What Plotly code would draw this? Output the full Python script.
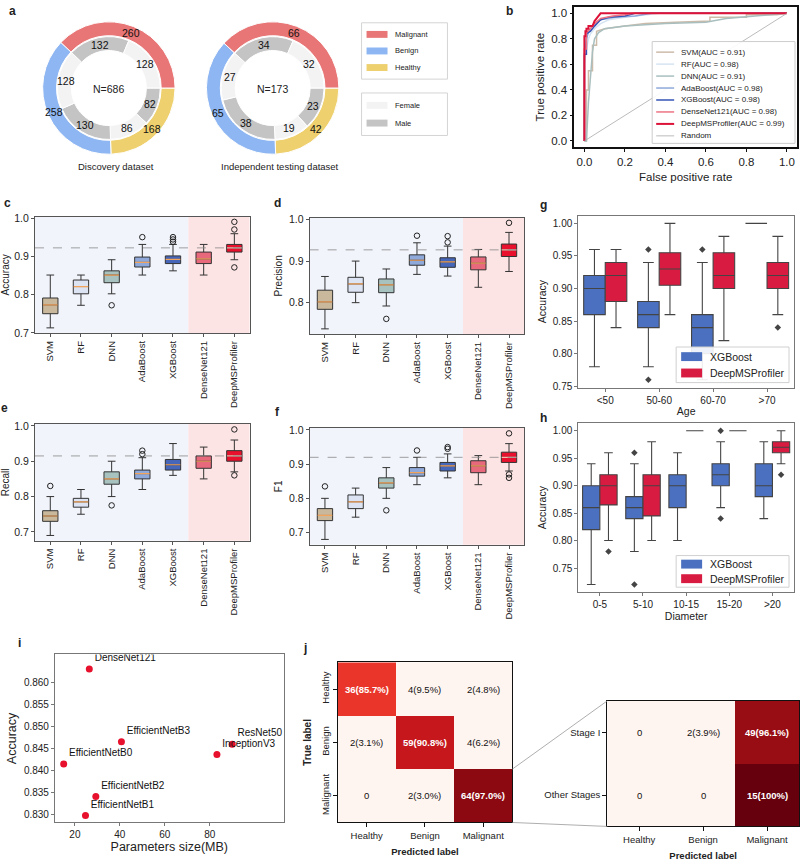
import math
import plotly.graph_objects as go

W, H = 800, 868
FONT = "Liberation Sans"

# ---------------- a: sample composition ----------------
groups = ["Malignant", "Benign", "Healthy"]
group_colors = ["#E97676", "#8DB6F2", "#EED06F"]
discovery_n = [260, 258, 168]
testing_n = [66, 65, 42]
sexes = ["Female", "Male"]
sex_colors = ["#F3F3F3", "#C4C4C4"]
discovery_sex_n = [128, 132, 128, 130, 86, 82]
testing_sex_n = [32, 34, 27, 38, 19, 23]

# ---------------- b: ROC ----------------
roc_models = ["SVM", "RF", "DNN", "AdaBoost", "XGBoost", "DenseNet121", "DeepMSProfiler"]
roc_auc = [0.91, 0.98, 0.91, 0.98, 0.98, 0.98, 0.99]
roc_colors = ["#CDBBA9", "#D6E4F2", "#A9BFBF", "#8FA9DB", "#3454B4", "#EE7484", "#DC1238"]
svm_fpr = [0, 0.01, 0.01, 0.02, 0.02, 0.04, 0.04, 0.06, 0.06, 0.1, 0.2, 0.3, 0.45, 0.62, 0.62, 0.8, 0.8, 0.95, 1.0]
svm_tpr = [0, 0.0, 0.4, 0.4, 0.55, 0.55, 0.75, 0.75, 0.86, 0.88, 0.9, 0.92, 0.93, 0.94, 0.97, 0.97, 0.99, 0.99, 1.0]
rf_fpr = [0, 0.0, 0.01, 0.02, 0.03, 0.05, 0.08, 0.12, 0.2, 0.3, 0.37, 1.0]
rf_tpr = [0, 0.6, 0.72, 0.8, 0.84, 0.88, 0.92, 0.95, 0.97, 0.99, 1.0, 1.0]
dnn_fpr = [0, 0.01, 0.02, 0.04, 0.05, 0.07, 0.1, 0.2, 0.4, 0.6, 0.7, 0.85, 1.0]
dnn_tpr = [0, 0.0, 0.3, 0.7, 0.8, 0.85, 0.88, 0.9, 0.92, 0.93, 0.96, 0.98, 1.0]
ada_fpr = [0, 0.0, 0.01, 0.02, 0.03, 0.05, 0.08, 0.15, 0.25, 0.33, 1.0]
ada_tpr = [0, 0.65, 0.8, 0.85, 0.88, 0.92, 0.95, 0.97, 0.98, 1.0, 1.0]
xgb_fpr = [0, 0.0, 0.01, 0.01, 0.03, 0.05, 0.08, 0.12, 0.2, 0.25, 1.0]
xgb_tpr = [0, 0.68, 0.68, 0.84, 0.86, 0.9, 0.95, 0.97, 0.98, 1.0, 1.0]
dense_fpr = [0, 0.0, 0.01, 0.01, 0.03, 0.05, 0.08, 0.14, 0.2, 0.24, 1.0]
dense_tpr = [0, 0.72, 0.72, 0.85, 0.88, 0.92, 0.96, 0.98, 0.99, 1.0, 1.0]
deep_fpr = [0, 0.0, 0.005, 0.005, 0.01, 0.01, 0.02, 0.02, 0.04, 0.05, 0.07, 0.08, 1.0]
deep_tpr = [0, 0.82, 0.82, 0.86, 0.86, 0.88, 0.88, 0.9, 0.9, 0.94, 0.98, 1.0, 1.0]
roc_fprs = [svm_fpr, rf_fpr, dnn_fpr, ada_fpr, xgb_fpr, dense_fpr, deep_fpr]
roc_tprs = [svm_tpr, rf_tpr, dnn_tpr, ada_tpr, xgb_tpr, dense_tpr, deep_tpr]

# ---------------- c-f: metric boxplots ----------------
models = ["SVM", "RF", "DNN", "AdaBoost", "XGBoost", "DenseNet121", "DeepMSProfiler"]
n_classic = 5
box_colors = ["#C9B89C", "#DCE3F2", "#A8C3BF", "#8EA9DA", "#4666BA", "#E8687C", "#E8102C"]
median_colors = ["#F2A35C"] * 6 + ["#F9B8A8"]

acc_q1 = [0.750, 0.802, 0.831, 0.872, 0.881, 0.881, 0.911]
acc_med = [0.773, 0.821, 0.851, 0.884, 0.892, 0.893, 0.922]
acc_q3 = [0.791, 0.838, 0.862, 0.898, 0.901, 0.911, 0.931]
acc_lo = [0.713, 0.772, 0.802, 0.851, 0.862, 0.851, 0.891]
acc_hi = [0.851, 0.851, 0.891, 0.931, 0.931, 0.931, 0.959]
acc_out = [[], [], [0.772], [0.950], [0.950, 0.944, 0.938], [], [0.990, 0.970, 0.871]]

prec_q1 = [0.784, 0.825, 0.824, 0.890, 0.885, 0.879, 0.911]
prec_med = [0.802, 0.845, 0.843, 0.902, 0.898, 0.895, 0.927]
prec_q3 = [0.830, 0.861, 0.857, 0.915, 0.908, 0.910, 0.941]
prec_lo = [0.737, 0.800, 0.792, 0.868, 0.864, 0.837, 0.875]
prec_hi = [0.863, 0.900, 0.881, 0.944, 0.936, 0.928, 0.969]
prec_out = [[], [], [0.761], [0.961], [0.960, 0.945], [], [0.992]]

rec_q1 = [0.730, 0.770, 0.835, 0.850, 0.875, 0.880, 0.900]
rec_med = [0.745, 0.785, 0.850, 0.865, 0.890, 0.900, 0.915]
rec_q3 = [0.760, 0.795, 0.870, 0.875, 0.905, 0.915, 0.930]
rec_lo = [0.690, 0.750, 0.800, 0.820, 0.860, 0.850, 0.870]
rec_hi = [0.800, 0.820, 0.900, 0.910, 0.950, 0.940, 0.960]
rec_out = [[0.830], [], [0.775], [0.930, 0.920], [], [], [0.990, 0.860]]

f1_q1 = [0.735, 0.770, 0.830, 0.865, 0.880, 0.875, 0.905]
f1_med = [0.750, 0.790, 0.845, 0.875, 0.895, 0.895, 0.920]
f1_q3 = [0.770, 0.810, 0.860, 0.890, 0.905, 0.910, 0.935]
f1_lo = [0.680, 0.745, 0.800, 0.840, 0.860, 0.840, 0.880]
f1_hi = [0.800, 0.830, 0.890, 0.920, 0.930, 0.925, 0.960]
f1_out = [[0.835], [], [0.765], [0.940], [0.950, 0.945], [], [0.990, 0.870, 0.860]]

# ---------------- g/h: subgroup boxplots ----------------
cmp_models = ["XGBoost", "DeepMSProfiler"]
cmp_colors = ["#4A70BF", "#D81B40"]
age_groups = ["<50", "50-60", "60-70", ">70"]
g_xgb_q1 = [0.86, 0.84, 0.80, 1.0]
g_xgb_med = [0.90, 0.86, 0.84, 1.0]
g_xgb_q3 = [0.92, 0.88, 0.86, 1.0]
g_xgb_lo = [0.78, 0.78, 0.76, 1.0]
g_xgb_hi = [0.96, 0.94, 0.94, 1.0]
g_xgb_out = [[], [0.96, 0.76], [0.96], []]
g_deep_q1 = [0.88, 0.905, 0.90, 0.90]
g_deep_med = [0.92, 0.93, 0.92, 0.92]
g_deep_q3 = [0.94, 0.955, 0.955, 0.94]
g_deep_lo = [0.84, 0.86, 0.82, 0.86]
g_deep_hi = [0.96, 1.0, 0.98, 0.98]
g_deep_out = [[], [], [], [0.84]]

diam_groups = ["0-5", "5-10", "10-15", "15-20", ">20"]
h_xgb_q1 = [0.82, 0.84, 0.86, 0.90, 0.88]
h_xgb_med = [0.86, 0.86, 0.90, 0.92, 0.90]
h_xgb_q3 = [0.90, 0.88, 0.92, 0.94, 0.94]
h_xgb_lo = [0.72, 0.78, 0.80, 0.86, 0.84]
h_xgb_hi = [0.94, 0.94, 0.96, 0.98, 0.98]
h_xgb_out = [[], [0.96, 0.72], [], [1.0, 0.84], []]
h_deep_q1 = [0.865, 0.845, 1.0, 1.0, 0.96]
h_deep_med = [0.90, 0.90, 1.0, 1.0, 0.97]
h_deep_q3 = [0.92, 0.92, 1.0, 1.0, 0.98]
h_deep_lo = [0.80, 0.80, 1.0, 1.0, 0.94]
h_deep_hi = [0.96, 0.98, 1.0, 1.0, 1.0]
h_deep_out = [[0.78], [], [], [], [0.92]]

# ---------------- i: backbone comparison ----------------
cnn_models = ["DenseNet121", "EfficientNetB0", "EfficientNetB1", "EfficientNetB2",
              "EfficientNetB3", "InceptionV3", "ResNet50"]
cnn_size = [26.4, 15.0, 24.7, 29.3, 40.7, 83.2, 90.0]
cnn_acc = [0.8631, 0.8414, 0.8297, 0.8340, 0.8465, 0.8436, 0.8459]
acc_ticks = [0.830, 0.835, 0.840, 0.845, 0.850, 0.855, 0.860]
size_ticks = [20, 40, 60, 80]

# ---------------- j: confusion matrices ----------------
cm_labels = ["Healthy", "Benign", "Malignant"]
cm_counts = [[36, 4, 2], [2, 59, 4], [0, 2, 64]]
stage_labels = ["Stage I", "Other Stages"]
stage_counts = [[0, 2, 49], [0, 0, 15]]
reds = ["#fff5f0", "#fee0d2", "#fcbba1", "#fc9272", "#fb6a4a", "#ef3b2c", "#cb181d", "#a50f15", "#67000d"]


def dx(l, r):
    return [l / W, r / W]


def dy(t, b):
    return [1 - b / H, 1 - t / H]


def auto_range(vals, pad=0.05):
    lo, hi = min(vals), max(vals)
    m = (hi - lo) * pad
    return [lo - m, hi + m]


fig = go.Figure()
annotations = []
shapes = []


def ann(x, y, text, size=10, bold=False, xanchor="center", yanchor="middle", angle=0, color="#222"):
    annotations.append(dict(x=x / W, y=1 - y / H, xref="paper", yref="paper", text=f"<b>{text}</b>" if bold else text,
                            showarrow=False, xanchor=xanchor, yanchor=yanchor, textangle=angle,
                            font=dict(size=size, color=color)))


def rect(l, t, r, b, fill, line_color=None):
    shapes.append(dict(type="rect", xref="paper", yref="paper", x0=l / W, x1=r / W, y0=1 - b / H, y1=1 - t / H,
                       fillcolor=fill, line=dict(color=line_color or fill, width=1 if line_color else 0)))


def seg(x0, y0, x1, y1, color, width=1.0, dash=None):
    shapes.append(dict(type="line", xref="paper", yref="paper", x0=x0 / W, y0=1 - y0 / H, x1=x1 / W, y1=1 - y1 / H,
                       line=dict(color=color, width=width, dash=dash)))


def ring_labels(values, cx, cy, r):
    # value labels at each slice's mid angle, counterclockwise from 3 o'clock
    total, cum = sum(values), 0
    for v in values:
        th = 2 * math.pi * (cum + v / 2) / total
        ann(cx + r * math.cos(th), cy - r * math.sin(th), str(v), size=10.5, color="#111")
        cum += v


# ---- a (drawn clockwise from 3 o'clock with reversed order == counterclockwise original order)
CY = 84
for outer, inner, cx, n_label in [(discovery_n, discovery_sex_n, 109, "N=686"), (testing_n, testing_sex_n, 273, "N=173")]:
    fig.add_trace(go.Pie(values=outer[::-1], labels=groups[::-1], sort=False, direction="clockwise", rotation=90,
                         hole=0.79, marker=dict(colors=group_colors[::-1], line=dict(color="white", width=1)),
                         textinfo="none", domain=dict(x=dx(cx - 67, cx + 67), y=dy(CY - 67, CY + 67)),
                         showlegend=False, hoverinfo="skip"))
    inner_labels = [f"{g} {s}" for g in groups for s in sexes]
    fig.add_trace(go.Pie(values=inner[::-1], labels=inner_labels[::-1], sort=False,
                         direction="clockwise", rotation=90, hole=0.73,
                         marker=dict(colors=(sex_colors * 3)[::-1], line=dict(color="white", width=1)),
                         textinfo="none", domain=dict(x=dx(cx - 52, cx + 52), y=dy(CY - 52, CY + 52)),
                         showlegend=False, hoverinfo="skip"))
    ring_labels(outer, cx, CY, 60)
    ring_labels(inner, cx, CY, 44)
    ann(cx, CY + 1, n_label, size=10.5)
ann(116, 163, "Discovery dataset", size=9.5)
ann(280, 163, "Independent testing dataset", size=9.5)

# legend boxes for a
for (t, b), labels, colors in [((18, 75), groups, group_colors), ((89, 132), sexes, sex_colors)]:
    rect(362, t, 448, b, "white", "#D4D4D4")
    step = (b - t) / (len(labels) + 0.4)
    for k, (lab, col) in enumerate(zip(labels, colors)):
        yc = t + step * (k + 0.7)
        rect(367, yc - 3.5, 388, yc + 3.5, col)
        ann(393, yc, lab, size=7.5, xanchor="left")

# ---- b
for name, auc, col, f, t in zip(roc_models, roc_auc, roc_colors, roc_fprs, roc_tprs):
    fig.add_trace(go.Scatter(x=f, y=t, mode="lines", line=dict(color=col, width=2 if name == "DeepMSProfiler" else 1.5),
                             xaxis="x", yaxis="y", showlegend=False, hoverinfo="skip"))
fig.add_trace(go.Scatter(x=[0, 1], y=[0, 1], mode="lines", line=dict(color="#AAAAAA", width=0.8),
                         xaxis="x", yaxis="y", showlegend=False, hoverinfo="skip"))

# ROC legend (drawn by hand so the rows stay as tight as the reference)
rect(653, 37, 796, 140, "rgba(255,255,255,0.9)", "#CCCCCC")
roc_entries = [(f"{n}(AUC = {a:.2f})", c, 2 if n == "DeepMSProfiler" else 1.5)
               for n, a, c in zip(roc_models, roc_auc, roc_colors)] + [("Random", "#AAAAAA", 0.8)]
for k, (lab, col, lw) in enumerate(roc_entries):
    yc = 47.7 + k * 12.1
    seg(657, yc, 675, yc, col, lw)
    ann(680, yc, lab, size=8, xanchor="left")


def base_axis(domain, anchor, **kw):
    d = dict(domain=domain, anchor=anchor, showgrid=False, zeroline=False, showline=True, mirror=True,
             linecolor="#555", linewidth=1, ticks="outside", ticklen=3, tickcolor="#555",
             tickfont=dict(size=10, color="#222"), title_font=dict(size=10.5))
    d.update(kw)
    return d


axes = {}
axes["xaxis"] = base_axis(dx(575, 798), "y", range=[-0.05, 1.05], dtick=0.2, tickformat=".1f", linecolor="#111",
                          linewidth=1.5, tickcolor="#111", tickfont=dict(size=11.5),
                          title=dict(text="False positive rate", font=dict(size=11.5), standoff=6))
axes["yaxis"] = base_axis(dy(2, 144), "x", range=[-0.05, 1.05], dtick=0.2, tickformat=".1f", linecolor="#111",
                          linewidth=1.5, tickcolor="#111", tickfont=dict(size=11.5),
                          title=dict(text="True positive rate", font=dict(size=11.5), standoff=4))

# ---- c-f
metric_panels = [
    ("2", "Accuracy", acc_q1, acc_med, acc_q3, acc_lo, acc_hi, acc_out, (35, 250), (214, 332)),
    ("3", "Precision", prec_q1, prec_med, prec_q3, prec_lo, prec_hi, prec_out, (310, 525), (215, 333)),
    ("4", "Recall", rec_q1, rec_med, rec_q3, rec_lo, rec_hi, rec_out, (35, 250), (424, 542)),
    ("5", "F1", f1_q1, f1_med, f1_q3, f1_lo, f1_hi, f1_out, (310, 525), (428, 546)),
]
xpos = list(range(len(models)))
for ax, title, q1, med, q3, lo, hi, outs, (l, r), (t, b) in metric_panels:
    xa, ya = "x" + ax, "y" + ax
    for i in xpos:
        fig.add_trace(go.Box(x=[i], q1=[q1[i]], median=[med[i]], q3=[q3[i]], lowerfence=[lo[i]], upperfence=[hi[i]],
                             width=0.5, whiskerwidth=0.5, fillcolor=box_colors[i], line=dict(color="#333", width=1),
                             boxpoints=False, xaxis=xa, yaxis=ya, showlegend=False, hoverinfo="skip"))
        fig.add_trace(go.Scatter(x=[i - 0.24, i + 0.24], y=[med[i], med[i]], mode="lines",
                                 line=dict(color=median_colors[i], width=1.2), xaxis=xa, yaxis=ya,
                                 showlegend=False, hoverinfo="skip"))
        if outs[i]:
            fig.add_trace(go.Scatter(x=[i] * len(outs[i]), y=outs[i], mode="markers",
                                     marker=dict(symbol="circle-open", size=5.5, color="#222", line=dict(width=1)),
                                     xaxis=xa, yaxis=ya, showlegend=False, hoverinfo="skip"))
    all_vals = lo + hi + [v for o in outs for v in o]
    axes["xaxis" + ax] = base_axis(dx(l, r), ya, range=[-0.5, len(models) - 0.5], tickvals=xpos, ticktext=models,
                                   tickangle=-90, tickfont=dict(size=9.5))
    axes["yaxis" + ax] = base_axis(dy(t, b), xa, range=auto_range(all_vals), dtick=0.1, tickformat=".1f",
                                   tickfont=dict(size=10.5), title=dict(text=title, font=dict(size=10), standoff=4))
    shapes.append(dict(type="rect", xref=xa, yref=ya + " domain", x0=-0.5, x1=n_classic - 0.5, y0=0, y1=1,
                       fillcolor="#F1F4FB", line=dict(width=0), layer="below"))
    shapes.append(dict(type="rect", xref=xa, yref=ya + " domain", x0=n_classic - 0.5, x1=len(models) - 0.5, y0=0, y1=1,
                       fillcolor="#FDE4E4", line=dict(width=0), layer="below"))
    shapes.append(dict(type="line", xref=xa + " domain", yref=ya, x0=0, x1=1, y0=med[-1], y1=med[-1],
                       line=dict(color="#888", width=0.8, dash="dash")))

# ---- g/h
sub_panels = [
    ("6", age_groups, "Age", (213, 387), (346, 382),
     [(g_xgb_q1, g_xgb_med, g_xgb_q3, g_xgb_lo, g_xgb_hi, g_xgb_out),
      (g_deep_q1, g_deep_med, g_deep_q3, g_deep_lo, g_deep_hi, g_deep_out)]),
    ("7", diam_groups, "Diameter", (423, 594), (557, 589),
     [(h_xgb_q1, h_xgb_med, h_xgb_q3, h_xgb_lo, h_xgb_hi, h_xgb_out),
      (h_deep_q1, h_deep_med, h_deep_q3, h_deep_lo, h_deep_hi, h_deep_out)]),
]
for ax, cats, xtitle, (t, b), (lt, lb), stats in sub_panels:
    xa, ya = "x" + ax, "y" + ax
    all_vals = []
    for k, (name, col, (q1, med, q3, lo, hi, outs)) in enumerate(zip(cmp_models, cmp_colors, stats)):
        off = -0.2 if k == 0 else 0.2
        xs = [i + off for i in range(len(cats))]
        fig.add_trace(go.Box(x=xs, q1=q1, median=med, q3=q3, lowerfence=lo, upperfence=hi, width=0.4,
                             whiskerwidth=0.5, fillcolor=col, line=dict(color="#444", width=1.1), boxpoints=False,
                             xaxis=xa, yaxis=ya, showlegend=False, hoverinfo="skip"))
        ox = [xs[i] for i, o in enumerate(outs) for _ in o]
        oy = [v for o in outs for v in o]
        fig.add_trace(go.Scatter(x=ox, y=oy, mode="markers", marker=dict(symbol="diamond", size=5, color="#444"),
                                 xaxis=xa, yaxis=ya, showlegend=False, hoverinfo="skip"))
        all_vals += lo + hi + oy
    axes["xaxis" + ax] = base_axis(dx(579, 795), ya, range=[-0.5, len(cats) - 0.5], tickvals=list(range(len(cats))),
                                   ticktext=cats, linecolor="#777", tickcolor="#777", tickfont=dict(size=10),
                                   title=dict(text=xtitle, font=dict(size=10.5), standoff=3))
    axes["yaxis" + ax] = base_axis(dy(t, b), xa, range=auto_range(all_vals), dtick=0.05, tickformat=".2f",
                                   linecolor="#777", tickcolor="#777", tickfont=dict(size=10),
                                   title=dict(text="Accuracy", font=dict(size=10.5), standoff=4))
    # legend patch box
    rect(677, lt, 790, lb, "rgba(255,255,255,0.9)", "#D0D0D0")
    for k, (name, col) in enumerate(zip(cmp_models, cmp_colors)):
        yc = lt + (lb - lt) * (0.27 + 0.46 * k)
        rect(682, yc - 4.5, 703, yc + 4.5, col)
        ann(709, yc, name, size=10.5, xanchor="left")

# ---- i
fig.add_trace(go.Scatter(x=cnn_size, y=cnn_acc, mode="markers+text", text=cnn_models, textposition="top right",
                         textfont=dict(size=10, color="#111"), marker=dict(color="#E8112D", size=7),
                         xaxis="x8", yaxis="y8", showlegend=False, hoverinfo="skip"))
axes["xaxis8"] = base_axis(dx(55, 284), "y8", range=[11.1, 112.9], tickvals=size_ticks, linecolor="#777",
                           tickcolor="#777", tickfont=dict(size=10),
                           title=dict(text="Parameters size(MB)", font=dict(size=12.5), standoff=2))
axes["yaxis8"] = base_axis(dy(657, 827), "x8", range=[0.8281, 0.8664], tickvals=acc_ticks, tickformat=".3f",
                           linecolor="#777", tickcolor="#777", tickfont=dict(size=10),
                           title=dict(text="Accuracy", font=dict(size=12.5), standoff=4))


# ---- j
def cell_text(n, pct):
    if n == 0:
        return "0"
    return f"{n}({pct:.0f}%)" if pct == 100 else f"{n}({pct:.1f}%)"


for ax, counts, ylabels, (l, r), (t, b), yangle, ytitle in [
        ("9", cm_counts, cm_labels, (338, 513), (665, 827), -90, "True label"),
        ("10", stage_counts, stage_labels, (608, 800), (704, 831), 0, None)]:
    xa, ya = "x" + ax, "y" + ax
    pct = [[100 * c / sum(row) for c in row] for row in counts]
    fig.add_trace(go.Heatmap(z=pct, x=cm_labels, y=ylabels, zmin=60, zmax=100,
                             colorscale=[[k / (len(reds) - 1), c] for k, c in enumerate(reds)],
                             showscale=False, xaxis=xa, yaxis=ya, hoverinfo="skip"))
    for i, yl in enumerate(ylabels):
        for j, xl in enumerate(cm_labels):
            strong = pct[i][j] >= 50
            txt = cell_text(counts[i][j], pct[i][j])
            annotations.append(dict(x=xl, y=yl, xref=xa, yref=ya, showarrow=False,
                                    text=f"<b>{txt}</b>" if strong else txt,
                                    font=dict(size=9.5, color="white" if strong else "#111")))
    axes["xaxis" + ax] = base_axis(dx(l, r), ya, linecolor="#111", tickcolor="#111", ticklen=4, tickfont=dict(size=9.5),
                                   title=dict(text="<b>Predicted label</b>", font=dict(size=9.5), standoff=8))
    axes["yaxis" + ax] = base_axis(dy(t, b), xa, linecolor="#111", tickcolor="#111", ticklen=4, autorange="reversed",
                                   tickangle=yangle, tickfont=dict(size=9.5),
                                   title=dict(text=f"<b>{ytitle}</b>" if ytitle else None, font=dict(size=10),
                                              standoff=6))

# zoom lines between the two matrices
row_h = (827 - 665) / len(cm_labels)
seg(513, 827 - row_h, 608, 704, "#999", 0.8)
seg(513, 827, 608, 831, "#999", 0.8)

# panel letters
for letter, x, y in [("a", 13, 6), ("b", 510, 6), ("c", 8, 200), ("d", 278, 200), ("g", 544, 202),
                     ("e", 5, 408), ("f", 278, 412), ("h", 544, 418), ("i", 20, 645), ("j", 305, 650)]:
    ann(x, y, letter, size=12, bold=True)

fig.update_layout(
    width=W, height=H, margin=dict(l=0, r=0, t=0, b=0), paper_bgcolor="white", plot_bgcolor="white",
    font=dict(family=FONT, color="#222"),
    annotations=annotations, shapes=shapes, showlegend=False,
    **axes,
)

fig.write_html("out.html", config={"displayModeBar": False}, post_script="document.body.style.margin='0px';")
